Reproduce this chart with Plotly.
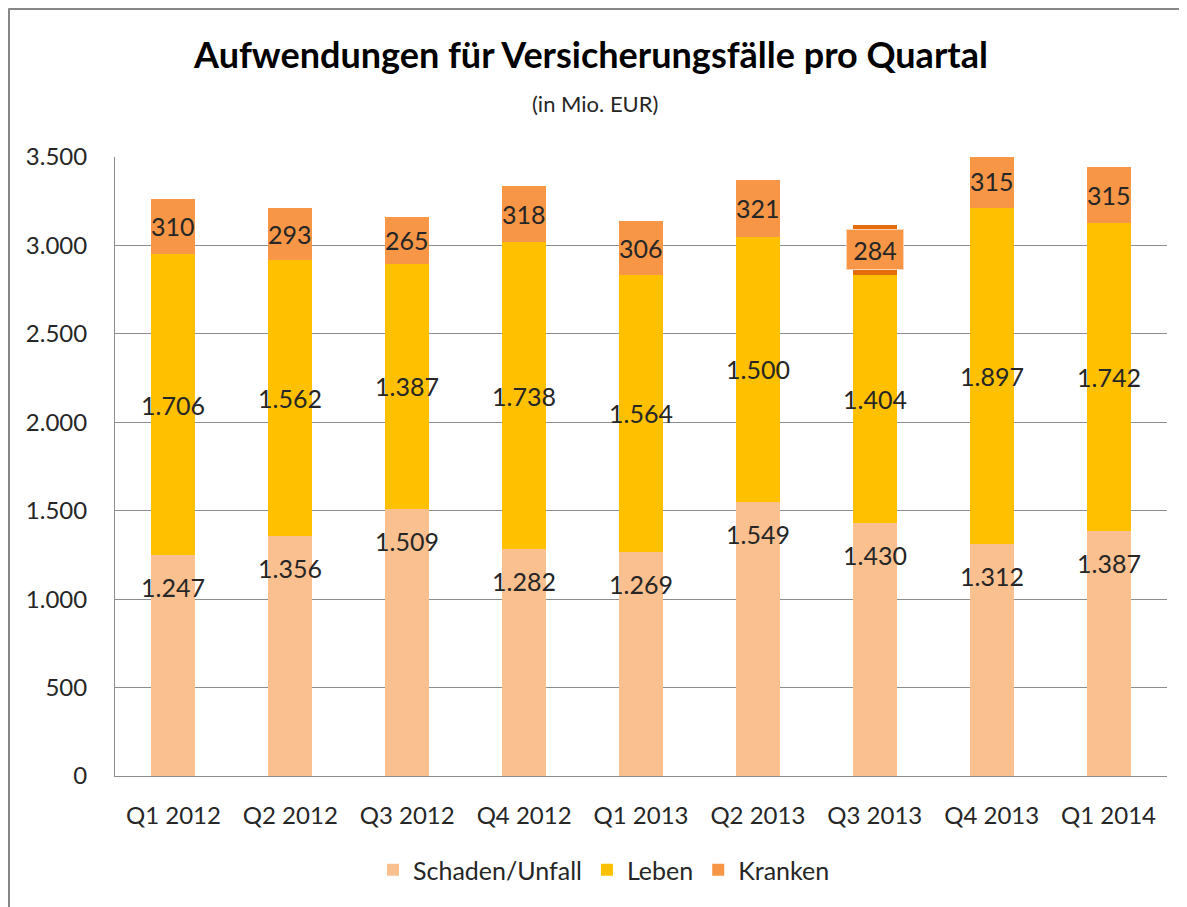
import plotly.graph_objects as go

categories = ["Q1 2012", "Q2 2012", "Q3 2012", "Q4 2012", "Q1 2013",
              "Q2 2013", "Q3 2013", "Q4 2013", "Q1 2014"]
schaden = [1247, 1356, 1509, 1282, 1269, 1549, 1430, 1312, 1387]
leben = [1706, 1562, 1387, 1738, 1564, 1500, 1404, 1897, 1742]
kranken = [310, 293, 265, 318, 306, 321, 284, 315, 315]
highlight = "Q3 2013"

C_SCH = "#FAC090"
C_LEB = "#FFC000"
C_KRA = "#F79646"
C_KRA_DARK = "#E46C0A"
FONT = "Lato"
TXT = "#262626"
GRID = "#8C8C8C"
BORDER = "#878787"

# figure geometry (the page adds an 8px body margin)
L, T, PW, PH = 107, 149, 1052, 619
W, H = 1187, 907


def px_x(x):
    return (x - L) / PW


def px_y(y):
    return (T + PH - y) / PH


def de(v):
    return f"{v:,}".replace(",", ".")


fig = go.Figure()
fig.add_bar(name="Schaden/Unfall", x=categories, y=schaden, marker_color=C_SCH,
            marker_line_width=0)
fig.add_bar(name="Leben", x=categories, y=leben, marker_color=C_LEB,
            marker_line_width=0)
fig.add_bar(name="Kranken", x=categories, y=kranken,
            marker_color=[C_KRA_DARK if c == highlight else C_KRA for c in categories],
            marker_line_width=0)

ann = []
lf = dict(family=FONT, size=25, color=TXT)
for c, s, l, k in zip(categories, schaden, leben, kranken):
    ann.append(dict(x=c, y=s, yshift=-32, text=de(s), showarrow=False, font=lf))
    ann.append(dict(x=c, y=s + l / 2, text=de(l), showarrow=False, font=lf))
    if c == highlight:
        ann.append(dict(x=c, y=s + l + k / 2, text=de(k), showarrow=False, font=lf,
                        bgcolor=C_KRA, bordercolor="#FBD4B4", borderwidth=1,
                        borderpad=0, width=56, height=39))
    else:
        ann.append(dict(x=c, y=s + l + k / 2, text=de(k), showarrow=False, font=lf))

# subtitle
ann.append(dict(xref="paper", yref="paper", x=px_x(587), y=px_y(95),
                text="(in Mio. EUR)", showarrow=False,
                font=dict(family=FONT, size=22, color=TXT),
                xanchor="center", yanchor="middle"))

fig.update_layout(
    width=W, height=H,
    margin=dict(l=L, r=W - L - PW, t=T, b=H - T - PH),
    paper_bgcolor="white", plot_bgcolor="white",
    barmode="stack", bargap=0.624,
    separators=",.",
    title=dict(text="<b>Aufwendungen für Versicherungsfälle pro Quartal</b>",
               x=583 / W, xanchor="center", y=1 - 47 / H, yanchor="middle",
               font=dict(family=FONT, size=36, color="#000000")),
    font=dict(family=FONT, color=TXT),
    showlegend=True,
    legend=dict(orientation="h", x=px_x(596), xanchor="center",
                y=px_y(862), yanchor="middle",
                font=dict(family=FONT, size=25, color=TXT),
                traceorder="normal", itemwidth=30),
    annotations=ann,
    shapes=[
        dict(type="line", xref="paper", yref="paper",
             x0=px_x(0.5), x1=px_x(W + 20), y0=px_y(0.5), y1=px_y(0.5),
             line=dict(color=BORDER, width=3), layer="below"),
        dict(type="line", xref="paper", yref="paper",
             x0=px_x(0.5), x1=px_x(0.5), y0=px_y(0.5), y1=px_y(H + 20),
             line=dict(color=BORDER, width=3), layer="below"),
    ],
)
fig.update_yaxes(range=[0, 3500], dtick=500, tickformat=",d",
                 showgrid=True, gridcolor=GRID, gridwidth=1,
                 showline=True, linecolor=GRID, linewidth=1,
                 ticks="", zeroline=False,
                 tickfont=dict(family=FONT, size=24, color=TXT),
                 ticklabelstandoff=22)
fig.update_xaxes(showline=True, linecolor=GRID, linewidth=1, ticks="",
                 tickfont=dict(family=FONT, size=24, color=TXT),
                 ticklabelstandoff=18)

fig.write_html("out.html")
